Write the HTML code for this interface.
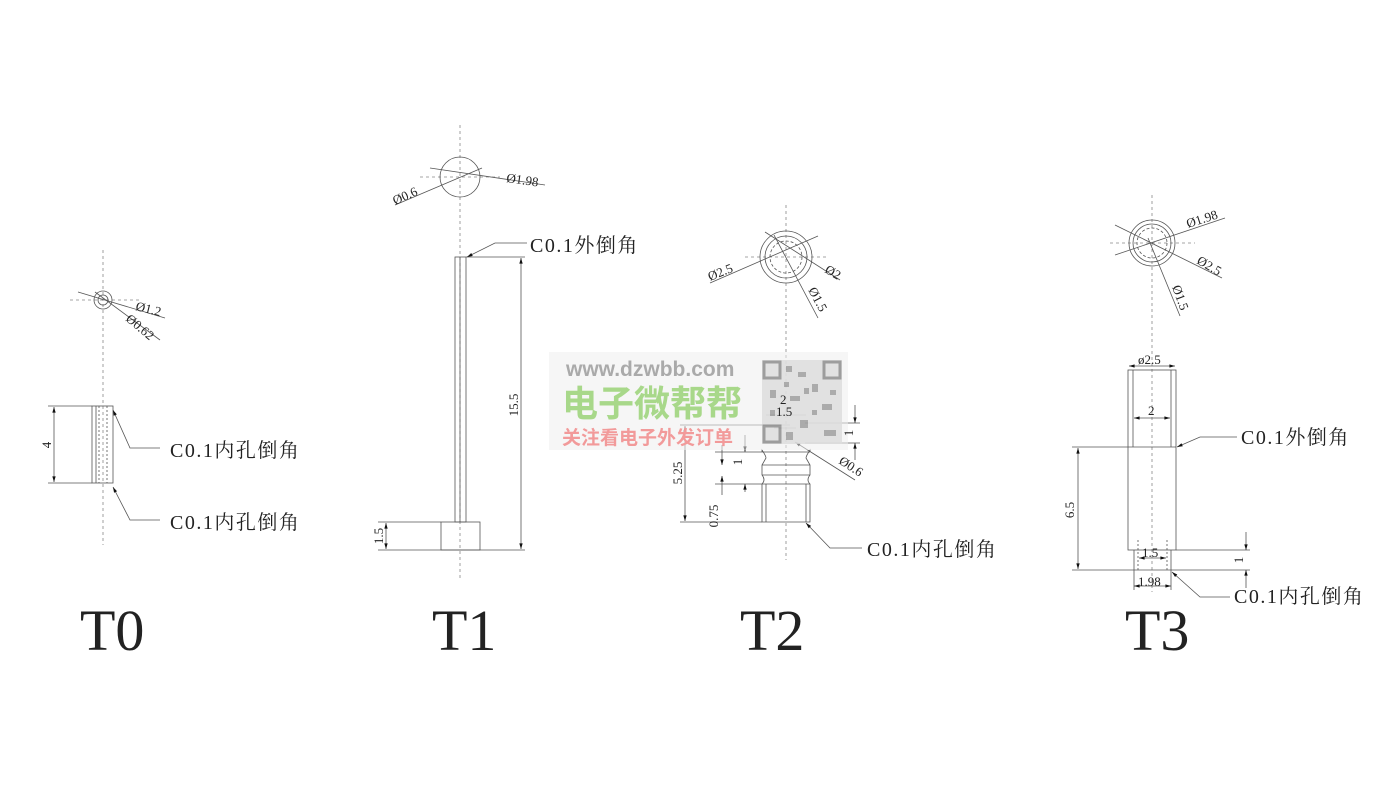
<!DOCTYPE html>
<html><head><meta charset="utf-8"><style>
html,body{margin:0;padding:0;background:#fff}
svg{display:block}
text{font-family:"Liberation Serif","Noto Serif CJK SC",serif;fill:#222}
.c{font-family:"Liberation Serif","Noto Serif CJK SC",serif;font-size:20px;letter-spacing:1.5px}
.s{font-size:13px}
</style></head><body>
<svg width="1398" height="802" viewBox="0 0 1398 802" xmlns="http://www.w3.org/2000/svg">
<defs>
<marker id="a" viewBox="0 0 10 10" refX="10" refY="5" markerWidth="11" markerHeight="7" orient="auto-start-reverse"><path d="M0,2 L10,5 L0,8z" fill="#111"/></marker>
</defs>
<g stroke="#555" stroke-width="0.8" fill="none">
<g stroke-dasharray="3,3" stroke="#888">
<line x1="103" y1="250" x2="103" y2="545"/><line x1="70" y1="300" x2="140" y2="300"/>
<line x1="460" y1="125" x2="460" y2="580"/><line x1="420" y1="177" x2="500" y2="177"/>
<line x1="786" y1="205" x2="786" y2="560"/><line x1="745" y1="257" x2="828" y2="257"/>
<line x1="1152" y1="195" x2="1152" y2="592"/><line x1="1110" y1="243" x2="1195" y2="243"/>
</g>
<!-- T0 -->
<circle cx="103" cy="300" r="9"/><circle cx="103" cy="300" r="5"/>
<line x1="78" y1="292" x2="165" y2="318"/><line x1="95" y1="292" x2="160" y2="340"/>
<rect x="92" y="406" width="21" height="77"/><line x1="96" y1="406" x2="96" y2="483"/><line x1="99" y1="406" x2="99" y2="483" stroke-dasharray="2,2"/><line x1="107" y1="406" x2="107" y2="483" stroke-dasharray="2,2"/>
<line x1="48" y1="406" x2="92" y2="406"/><line x1="48" y1="483" x2="92" y2="483"/>
<line x1="54" y1="407" x2="54" y2="482" marker-start="url(#a)" marker-end="url(#a)"/>
<polyline points="160,448 130,448 113,410" marker-end="url(#a)"/>
<polyline points="160,520 130,520 113,487" marker-end="url(#a)"/>
<!-- T1 -->
<circle cx="460" cy="177" r="20"/>
<line x1="430" y1="168" x2="545" y2="185"/><line x1="395" y1="205" x2="482" y2="168"/>
<rect x="455" y="257" width="11" height="265"/><line x1="460" y1="257" x2="460" y2="522"/>
<rect x="441" y="522" width="39" height="28"/>
<line x1="378" y1="522" x2="441" y2="522"/><line x1="378" y1="550" x2="525" y2="550"/>
<line x1="466" y1="257" x2="525" y2="257"/>
<line x1="386" y1="523" x2="386" y2="549" marker-start="url(#a)" marker-end="url(#a)"/>
<line x1="521" y1="258" x2="521" y2="549" marker-start="url(#a)" marker-end="url(#a)"/>
<polyline points="527,243 495,243 467,257" marker-end="url(#a)"/>
<!-- T2 -->
<circle cx="786" cy="257" r="26"/><circle cx="786" cy="257" r="21"/><circle cx="786" cy="257" r="16" stroke-dasharray="3,2"/>
<line x1="710" y1="283" x2="818" y2="236"/><line x1="765" y1="232" x2="840" y2="280"/><line x1="774" y1="235" x2="818" y2="318"/>
<line x1="766" y1="415" x2="806" y2="415"/><line x1="774" y1="428" x2="796" y2="428"/>
<path d="M762,452 L762,450 Q766,456 766,458 L762,465 L762,475 Q766,480 762,484 L762,522 L810,522 L810,484 Q806,480 810,475 L810,465 L806,458 Q806,456 810,450 L810,452"/>
<line x1="762" y1="452" x2="810" y2="452"/><line x1="762" y1="465" x2="810" y2="465"/><line x1="762" y1="475" x2="810" y2="475"/><line x1="762" y1="484" x2="810" y2="484"/>
<line x1="766" y1="484" x2="766" y2="522"/><line x1="806" y1="484" x2="806" y2="522"/>
<line x1="680" y1="425" x2="790" y2="425"/><line x1="680" y1="522" x2="762" y2="522"/>
<line x1="715" y1="452" x2="762" y2="452"/><line x1="715" y1="484" x2="762" y2="484"/>
<line x1="685" y1="426" x2="685" y2="521" marker-start="url(#a)" marker-end="url(#a)"/>
<line x1="722" y1="445" x2="722" y2="465" marker-end="url(#a)"/><line x1="722" y1="495" x2="722" y2="476" marker-end="url(#a)"/>
<line x1="745" y1="435" x2="745" y2="452" marker-end="url(#a)"/><line x1="745" y1="492" x2="745" y2="484" marker-end="url(#a)"/>
<line x1="805" y1="423" x2="860" y2="423"/><line x1="805" y1="443" x2="860" y2="443"/>
<line x1="855" y1="405" x2="855" y2="423" marker-end="url(#a)"/><line x1="855" y1="460" x2="855" y2="443" marker-end="url(#a)"/>
<line x1="855" y1="480" x2="795" y2="442" marker-end="url(#a)"/>
<polyline points="862,548 830,548 806,523" marker-end="url(#a)"/>
<!-- T3 -->
<circle cx="1152" cy="243" r="23"/><circle cx="1152" cy="243" r="19"/><circle cx="1152" cy="243" r="15" stroke-dasharray="3,2"/>
<line x1="1115" y1="255" x2="1225" y2="218"/><line x1="1115" y1="225" x2="1222" y2="278"/><line x1="1148" y1="238" x2="1180" y2="316"/>
<rect x="1128" y="370" width="48" height="180"/><line x1="1128" y1="447" x2="1176" y2="447"/>
<line x1="1133" y1="370" x2="1133" y2="447"/><line x1="1171" y1="370" x2="1171" y2="447"/>
<line x1="1134" y1="550" x2="1134" y2="590"/><line x1="1171" y1="550" x2="1171" y2="590"/>
<line x1="1138" y1="540" x2="1138" y2="570" stroke-dasharray="2,2"/><line x1="1167" y1="540" x2="1167" y2="570" stroke-dasharray="2,2"/>
<line x1="1129" y1="366" x2="1175" y2="366" marker-start="url(#a)" marker-end="url(#a)"/>
<line x1="1134" y1="418" x2="1170" y2="418" marker-start="url(#a)" marker-end="url(#a)"/>
<line x1="1139" y1="558" x2="1166" y2="558" marker-start="url(#a)" marker-end="url(#a)"/>
<line x1="1134" y1="586" x2="1171" y2="586" marker-start="url(#a)" marker-end="url(#a)"/>
<line x1="1072" y1="447" x2="1128" y2="447"/><line x1="1072" y1="570" x2="1250" y2="570"/><line x1="1176" y1="550" x2="1250" y2="550"/>
<line x1="1078" y1="448" x2="1078" y2="569" marker-start="url(#a)" marker-end="url(#a)"/>
<line x1="1246" y1="532" x2="1246" y2="550" marker-end="url(#a)"/><line x1="1246" y1="588" x2="1246" y2="570" marker-end="url(#a)"/>
<polyline points="1237,437 1200,437 1177,447" marker-end="url(#a)"/>
<polyline points="1230,597 1200,597 1172,572" marker-end="url(#a)"/>
</g>
<!-- watermark -->
<rect x="549" y="352" width="299" height="98" fill="#eee" opacity="0.55"/>
<text x="566" y="376" style="font-family:'Liberation Sans',sans-serif;font-size:21px;font-weight:bold;fill:#aaa">www.dzwbb.com</text>
<text x="562" y="416" style="font-family:'Noto Sans CJK SC',sans-serif;font-size:36px;font-weight:bold;fill:#a8d88a">电子微帮帮</text>
<text x="562" y="444" style="font-family:'Noto Sans CJK SC',sans-serif;font-size:19px;font-weight:bold;fill:#f29a9a">关注看电子外发订单</text>
<g fill="#999" opacity="0.8">
<rect x="762" y="360" width="80" height="84" fill="#ddd"/>
<rect x="764" y="362" width="16" height="16" fill="none" stroke="#888" stroke-width="3"/>
<rect x="824" y="362" width="16" height="16" fill="none" stroke="#888" stroke-width="3"/>
<rect x="764" y="426" width="16" height="16" fill="none" stroke="#888" stroke-width="3"/>
<rect x="786" y="366" width="6" height="6"/><rect x="798" y="372" width="8" height="5"/><rect x="812" y="384" width="6" height="8"/><rect x="790" y="396" width="10" height="5"/><rect x="770" y="390" width="6" height="8"/><rect x="822" y="404" width="10" height="6"/><rect x="800" y="420" width="8" height="8"/><rect x="786" y="432" width="7" height="8"/><rect x="824" y="430" width="12" height="6"/>
<rect x="784" y="382" width="5" height="5"/><rect x="804" y="388" width="5" height="6"/><rect x="830" y="390" width="6" height="5"/><rect x="812" y="410" width="5" height="5"/><rect x="770" y="410" width="5" height="6"/>
</g>
<!-- labels -->
<text class="c" x="170" y="457">C0.1内孔倒角</text>
<text class="c" x="170" y="529">C0.1内孔倒角</text>
<text class="c" x="530" y="252">C0.1外倒角</text>
<text class="c" x="867" y="556">C0.1内孔倒角</text>
<text class="c" x="1241" y="444">C0.1外倒角</text>
<text class="c" x="1234" y="603">C0.1内孔倒角</text>
<text class="s" x="135" y="310" transform="rotate(14 135 310)">Ø1.2</text>
<text class="s" x="125" y="320" transform="rotate(40 125 320)">Ø0.62</text>
<text class="s" x="51" y="445" transform="rotate(-90 51 445)" text-anchor="middle">4</text>
<text class="s" x="506" y="182" transform="rotate(8 506 182)">Ø1.98</text>
<text class="s" x="395" y="205" transform="rotate(-24 395 205)">Ø0.6</text>
<text class="s" x="518" y="405" transform="rotate(-90 518 405)" text-anchor="middle">15.5</text>
<text class="s" x="383" y="536" transform="rotate(-90 383 536)" text-anchor="middle">1.5</text>
<text class="s" x="710" y="281" transform="rotate(-22 710 281)">Ø2.5</text>
<text class="s" x="824" y="272" transform="rotate(30 824 272)">Ø2</text>
<text class="s" x="808" y="290" transform="rotate(62 808 290)">Ø1.5</text>
<text class="s" x="780" y="404">2</text>
<text class="s" x="776" y="416">1.5</text>
<text class="s" x="838" y="463" transform="rotate(33 838 463)">Ø0.6</text>
<text class="s" x="682" y="473" transform="rotate(-90 682 473)" text-anchor="middle">5.25</text>
<text class="s" x="718" y="516" transform="rotate(-90 718 516)" text-anchor="middle">0.75</text>
<text class="s" x="742" y="462" transform="rotate(-90 742 462)" text-anchor="middle">1</text>
<text class="s" x="853" y="433" transform="rotate(-90 853 433)" text-anchor="middle">1</text>
<text class="s" x="1188" y="228" transform="rotate(-18 1188 228)">Ø1.98</text>
<text class="s" x="1196" y="263" transform="rotate(30 1196 263)">Ø2.5</text>
<text class="s" x="1172" y="287" transform="rotate(70 1172 287)">Ø1.5</text>
<text class="s" x="1138" y="364">ø2.5</text>
<text class="s" x="1148" y="415">2</text>
<text class="s" x="1142" y="557">1.5</text>
<text class="s" x="1138" y="586">1.98</text>
<text class="s" x="1074" y="510" transform="rotate(-90 1074 510)" text-anchor="middle">6.5</text>
<text class="s" x="1243" y="560" transform="rotate(-90 1243 560)" text-anchor="middle">1</text>
<text x="80" y="650" style="font-size:58px">T0</text>
<text x="432" y="650" style="font-size:58px">T1</text>
<text x="740" y="650" style="font-size:58px">T2</text>
<text x="1125" y="650" style="font-size:58px">T3</text>
</svg>
</body></html>
